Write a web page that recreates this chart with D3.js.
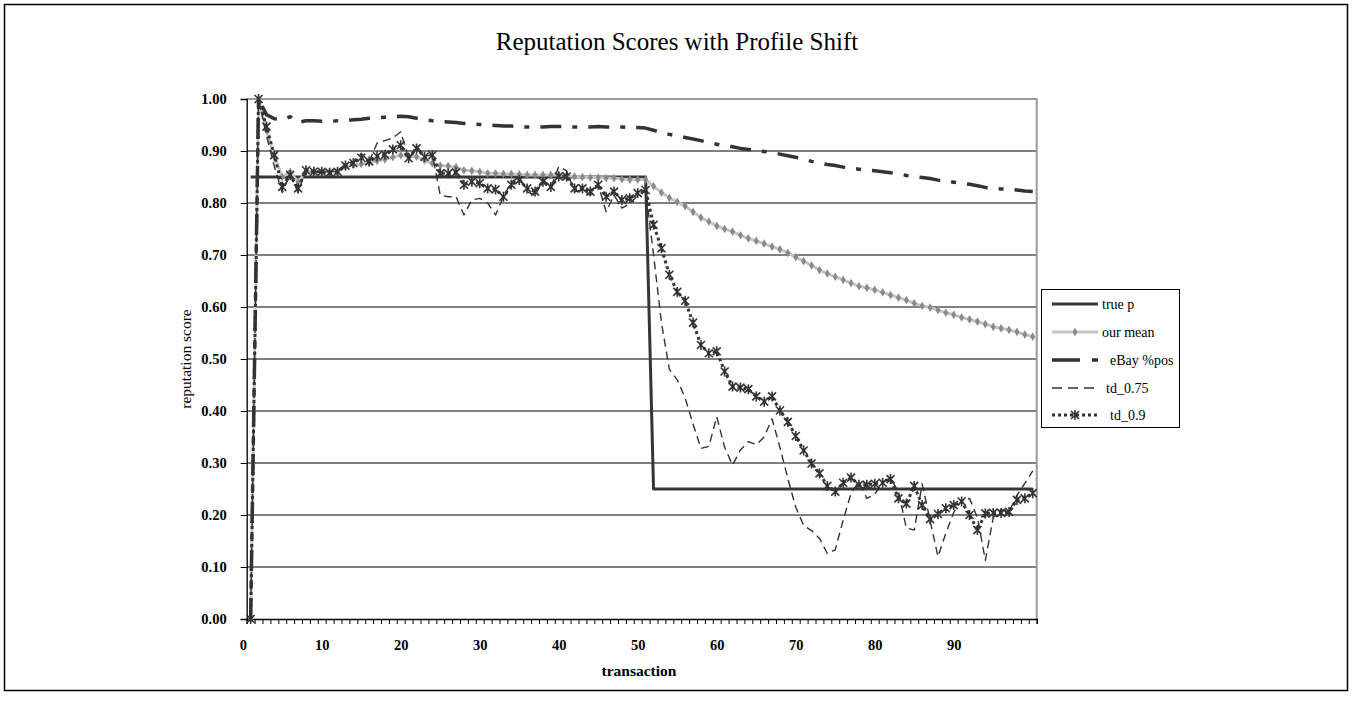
<!DOCTYPE html>
<html>
<head>
<meta charset="utf-8">
<script src="https://cdn.jsdelivr.net/npm/d3@7"></script>
<style>
  body { margin: 0; background: #fff; }
  svg { display: block; font-family: "Liberation Serif", "Times New Roman", serif; }
</style>
</head>
<body>
<svg id="chart" width="1355" height="702"></svg>
<script>
// transactions 1..100
const transactions = d3.range(1, 101);

const trueP = [0.85, 0.85, 0.85, 0.85, 0.85, 0.85, 0.85, 0.85, 0.85, 0.85,
  0.85, 0.85, 0.85, 0.85, 0.85, 0.85, 0.85, 0.85, 0.85, 0.85,
  0.85, 0.85, 0.85, 0.85, 0.85, 0.85, 0.85, 0.85, 0.85, 0.85,
  0.85, 0.85, 0.85, 0.85, 0.85, 0.85, 0.85, 0.85, 0.85, 0.85,
  0.85, 0.85, 0.85, 0.85, 0.85, 0.85, 0.85, 0.85, 0.85, 0.85,
  0.85, 0.25, 0.25, 0.25, 0.25, 0.25, 0.25, 0.25, 0.25, 0.25,
  0.25, 0.25, 0.25, 0.25, 0.25, 0.25, 0.25, 0.25, 0.25, 0.25,
  0.25, 0.25, 0.25, 0.25, 0.25, 0.25, 0.25, 0.25, 0.25, 0.25,
  0.25, 0.25, 0.25, 0.25, 0.25, 0.25, 0.25, 0.25, 0.25, 0.25,
  0.25, 0.25, 0.25, 0.25, 0.25, 0.25, 0.25, 0.25, 0.25, 0.25];

const ourMean = [0, 1.0, 0.94, 0.89, 0.85, 0.86, 0.84, 0.86, 0.86, 0.86,
  0.86, 0.86, 0.87, 0.873, 0.875, 0.878, 0.881, 0.884, 0.888, 0.892,
  0.89, 0.889, 0.882, 0.876, 0.872, 0.871, 0.869, 0.863, 0.862, 0.86,
  0.857, 0.857, 0.856, 0.856, 0.855, 0.854, 0.854, 0.854, 0.854, 0.854,
  0.853, 0.851, 0.85, 0.849, 0.849, 0.848, 0.848, 0.846, 0.845, 0.845,
  0.845, 0.832, 0.82, 0.81, 0.802, 0.794, 0.783, 0.772, 0.764, 0.756,
  0.75, 0.745, 0.738, 0.732, 0.727, 0.722, 0.716, 0.711, 0.704, 0.696,
  0.688, 0.68, 0.671, 0.664, 0.658, 0.652, 0.646, 0.64, 0.637, 0.633,
  0.628, 0.623, 0.618, 0.613, 0.607, 0.602, 0.599, 0.594, 0.589, 0.585,
  0.58, 0.576, 0.572, 0.567, 0.562, 0.559, 0.556, 0.552, 0.547, 0.543];

const ebayPos = [0, 1.0, 0.97, 0.962, 0.96, 0.966, 0.955, 0.958, 0.958, 0.957,
  0.957, 0.958, 0.958, 0.96, 0.961, 0.963, 0.964, 0.965, 0.966, 0.967,
  0.966, 0.963, 0.96, 0.958, 0.957, 0.956, 0.955, 0.953, 0.952, 0.951,
  0.95, 0.949, 0.948, 0.948, 0.947, 0.946, 0.946, 0.946, 0.947, 0.947,
  0.947, 0.946, 0.946, 0.946, 0.947, 0.946, 0.946, 0.946, 0.945, 0.945,
  0.944, 0.94, 0.935, 0.932, 0.929, 0.926, 0.923, 0.92, 0.916, 0.913,
  0.91, 0.908, 0.905, 0.903, 0.901, 0.899, 0.897, 0.894, 0.891, 0.888,
  0.884, 0.88, 0.877, 0.874, 0.872, 0.869, 0.867, 0.865, 0.863, 0.862,
  0.86, 0.858, 0.856, 0.853, 0.851, 0.849, 0.847, 0.844, 0.842, 0.84,
  0.838, 0.836, 0.833, 0.83, 0.828, 0.827, 0.826, 0.825, 0.823, 0.822];

const td075 = [0, 1.0, 0.93, 0.87, 0.82, 0.855, 0.82, 0.865, 0.86, 0.86,
  0.86, 0.862, 0.875, 0.88, 0.895, 0.88, 0.915, 0.92, 0.925, 0.937,
  0.885, 0.91, 0.89, 0.893, 0.815, 0.812, 0.812, 0.777, 0.806, 0.809,
  0.8, 0.777, 0.812, 0.84, 0.85, 0.822, 0.814, 0.845, 0.83, 0.87,
  0.862, 0.822, 0.825, 0.815, 0.835, 0.783, 0.815, 0.79, 0.799, 0.815,
  0.825, 0.7, 0.57, 0.48, 0.46, 0.425, 0.375, 0.328, 0.332, 0.389,
  0.33, 0.296, 0.325, 0.341, 0.335, 0.35, 0.385, 0.33, 0.27, 0.215,
  0.18, 0.17, 0.155, 0.126, 0.133, 0.19, 0.242, 0.264, 0.232, 0.24,
  0.262, 0.271, 0.245, 0.175, 0.171, 0.26, 0.19, 0.12, 0.165, 0.205,
  0.228, 0.232, 0.195, 0.113, 0.195, 0.21, 0.206, 0.238, 0.261, 0.285];

const td09 = [0, 1.0, 0.947, 0.892, 0.831, 0.854, 0.828, 0.863, 0.86, 0.86,
  0.858, 0.86, 0.872, 0.877, 0.887, 0.88, 0.89, 0.893, 0.903, 0.911,
  0.886, 0.905, 0.889, 0.892, 0.857, 0.857, 0.859, 0.835, 0.841, 0.838,
  0.828, 0.826, 0.812, 0.835, 0.844, 0.828, 0.822, 0.841, 0.831, 0.851,
  0.851, 0.828, 0.828, 0.822, 0.835, 0.812, 0.822, 0.806, 0.809, 0.819,
  0.825, 0.758, 0.713, 0.662, 0.629, 0.612, 0.57, 0.527, 0.511, 0.515,
  0.476, 0.447, 0.445, 0.442, 0.428, 0.418, 0.428, 0.401, 0.379, 0.352,
  0.324, 0.299, 0.28, 0.256, 0.245, 0.262, 0.272, 0.258, 0.258, 0.26,
  0.262, 0.269, 0.232, 0.222, 0.256, 0.219, 0.192, 0.202, 0.213, 0.219,
  0.226, 0.2, 0.171, 0.203, 0.204, 0.204, 0.206, 0.229, 0.232, 0.242];

const yTicks = [0, 0.1, 0.2, 0.3, 0.4, 0.5, 0.6, 0.7, 0.8, 0.9, 1.0];
const xLabels = [0, 10, 20, 30, 40, 50, 60, 70, 80, 90];

const series = [
  { name: "true p", values: trueP, color: "#363636", width: 3, dash: null, marker: null },
  { name: "our mean", values: ourMean, color: "#c4c4c4", width: 3, dash: null, marker: "diamond" },
  { name: "eBay %pos", values: ebayPos, color: "#333", width: 3.5, dash: "21,11,5,11", marker: null },
  { name: "td_0.75", values: td075, color: "#333", width: 1.4, dash: "8,5", marker: null },
  { name: "td_0.9", values: td09, color: "#333", width: 3, dash: "3,3", marker: "star" }
];

const svg = d3.select("#chart");
const plotL = 246.7, plotR = 1036.7, plotT = 99, plotB = 619;

svg.append("rect").attr("width", 1355).attr("height", 702).attr("fill", "#fff");
// outer chart frame
svg.append("rect")
  .attr("x", 4.5).attr("y", 4.5).attr("width", 1343).attr("height", 686)
  .attr("fill", "none").attr("stroke", "#000").attr("stroke-width", 1.5);

const x = d3.scaleLinear().domain([0.5, 100.5]).range([plotL, plotR]);
const y = d3.scaleLinear().domain([0, 1]).range([plotB, plotT]);

// title
svg.append("text")
  .attr("x", 677).attr("y", 50)
  .attr("text-anchor", "middle")
  .style("font-size", "25px")
  .text("Reputation Scores with Profile Shift");

// gridlines
svg.append("g")
  .selectAll("line")
  .data(yTicks.filter(d => d > 0 && d < 1))
  .enter().append("line")
  .attr("x1", plotL).attr("x2", plotR)
  .attr("y1", d => y(d)).attr("y2", d => y(d))
  .attr("stroke", "#000").attr("stroke-width", 1);

// plot border (top / right in grey)
svg.append("path")
  .attr("d", `M${plotL},${plotT}H${plotR}V${plotB}`)
  .attr("fill", "none").attr("stroke", "#999").attr("stroke-width", 2);

// y axis
const yAxis = svg.append("g")
  .attr("transform", `translate(${plotL},0)`)
  .call(d3.axisLeft(y).tickValues(yTicks).tickFormat(d3.format(".2f")).tickSize(6).tickPadding(14));
yAxis.select(".domain").attr("stroke", "#000").attr("stroke-width", 1.3);
yAxis.selectAll("text")
  .style("font-family", "Liberation Serif, serif")
  .style("font-size", "14.5px").style("font-weight", "bold").attr("fill", "#000");

// x axis minor ticks at category boundaries
const xMinor = svg.append("g")
  .attr("transform", `translate(0,${plotB})`)
  .call(d3.axisBottom(x).tickValues(d3.range(0.5, 101, 1)).tickSize(5).tickFormat(""));
xMinor.select(".domain").attr("stroke", "#000").attr("stroke-width", 1.3);

// x axis labels
const xAxis = svg.append("g")
  .attr("transform", `translate(0,${plotB})`)
  .call(d3.axisBottom(x).tickValues(xLabels).tickSize(0).tickPadding(21));
xAxis.select(".domain").remove();
xAxis.selectAll("text")
  .style("font-family", "Liberation Serif, serif")
  .style("font-size", "14.5px").style("font-weight", "bold").attr("fill", "#000");

// axis titles
svg.append("text")
  .attr("transform", "translate(191,359) rotate(-90)")
  .attr("text-anchor", "middle")
  .style("font-size", "15.5px")
  .text("reputation score");

svg.append("text")
  .attr("x", 639).attr("y", 676)
  .attr("text-anchor", "middle")
  .style("font-size", "15.5px").style("font-weight", "bold")
  .text("transaction");

// lines
const line = d3.line()
  .x((d, i) => x(transactions[i]))
  .y(d => y(d));

const starPath = (s) => `M${-s},${-s}L${s},${s}M${-s},${s}L${s},${-s}M0,${-s * 1.25}V${s * 1.25}`;
const diamond = d3.symbol().type(d3.symbolDiamond).size(22);

series.forEach(s => {
  const g = svg.append("g").attr("class", "series");
  g.append("path")
    .datum(s.values)
    .attr("d", line)
    .attr("fill", "none")
    .attr("stroke", s.color)
    .attr("stroke-width", s.width)
    .attr("stroke-dasharray", s.dash)
    .attr("stroke-linejoin", "round");

  if (s.marker === "diamond") {
    g.selectAll("path.mk")
      .data(s.values)
      .enter().append("path")
      .attr("class", "mk")
      .attr("transform", (d, i) => `translate(${x(transactions[i])},${y(d)})`)
      .attr("d", diamond)
      .attr("fill", "#8a8a8a");
  }
  if (s.marker === "star") {
    g.selectAll("path.mk")
      .data(s.values)
      .enter().append("path")
      .attr("class", "mk")
      .attr("transform", (d, i) => `translate(${x(transactions[i])},${y(d)})`)
      .attr("d", starPath(4))
      .attr("stroke", "#333").attr("stroke-width", 1.6).attr("fill", "none");
  }
});

// legend
const legend = svg.append("g");
legend.append("rect")
  .attr("x", 1041.5).attr("y", 289.5).attr("width", 138).attr("height", 138)
  .attr("fill", "#fff").attr("stroke", "#000").attr("stroke-width", 1);

const legY = [304, 332, 360, 388, 415];
const legTextX = [1102, 1102, 1110, 1106, 1110];
series.forEach((s, i) => {
  const ly = legY[i];
  legend.append("line")
    .attr("x1", 1052).attr("x2", 1098)
    .attr("y1", ly).attr("y2", ly)
    .attr("stroke", s.color)
    .attr("stroke-width", s.width)
    .attr("stroke-dasharray", s.name === "eBay %pos" ? "28,12,7,20" : s.name === "td_0.75" ? "10,6" : s.dash);
  if (s.marker === "diamond") {
    legend.append("path").attr("transform", `translate(1075,${ly})`).attr("d", diamond).attr("fill", "#8a8a8a");
  }
  if (s.marker === "star") {
    legend.append("path").attr("transform", `translate(1075,${ly})`).attr("d", starPath(4))
      .attr("stroke", "#333").attr("stroke-width", 1.6).attr("fill", "none");
  }
  legend.append("text")
    .attr("x", legTextX[i]).attr("y", ly + 5)
    .style("font-size", "14px")
    .text(s.name);
});
</script>
</body>
</html>
